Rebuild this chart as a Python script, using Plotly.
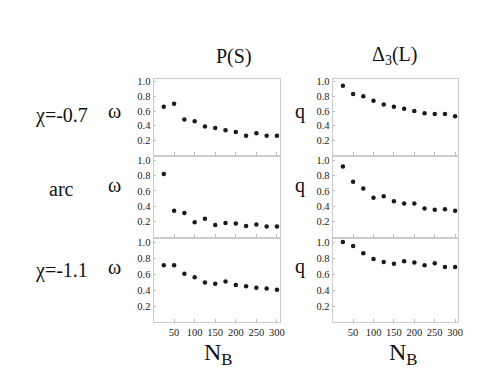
import plotly.graph_objects as go
from plotly.subplots import make_subplots

# N_B values shared by all panels
n_b = [25, 50, 75, 100, 125, 150, 175, 200, 225, 250, 275, 300]

# omega from P(S)
omega_chi07 = [0.66, 0.70, 0.485, 0.46, 0.39, 0.37, 0.34, 0.315, 0.265, 0.30, 0.265, 0.265]
omega_arc = [0.82, 0.34, 0.31, 0.19, 0.235, 0.155, 0.18, 0.175, 0.14, 0.16, 0.135, 0.135]
omega_chi11 = [0.71, 0.71, 0.605, 0.56, 0.495, 0.48, 0.51, 0.465, 0.45, 0.43, 0.42, 0.405]

# q from Delta_3(L)
q_chi07 = [0.944, 0.83, 0.80, 0.74, 0.69, 0.66, 0.63, 0.60, 0.57, 0.56, 0.56, 0.53]
q_arc = [0.92, 0.72, 0.63, 0.51, 0.53, 0.465, 0.435, 0.435, 0.37, 0.355, 0.36, 0.34]
q_chi11 = [1.0, 0.95, 0.86, 0.79, 0.75, 0.73, 0.76, 0.745, 0.71, 0.735, 0.69, 0.69]

row_labels = ["χ=-0.7", "arc", "χ=-1.1"]
col_titles = ["P(S)", "Δ<sub>3</sub>(L)"]
x_ticks = [50, 100, 150, 200, 250, 300]
y_ticks = [0.2, 0.4, 0.6, 0.8, 1.0]

W, H = 496, 382
SERIF = "Liberation Serif"

series = [
    [omega_chi07, q_chi07],
    [omega_arc, q_arc],
    [omega_chi11, q_chi11],
]

fig = make_subplots(rows=3, cols=2)

for r, pair in enumerate(series, start=1):
    for c, vals in enumerate(pair, start=1):
        fig.add_trace(go.Scatter(
            x=n_b, y=vals, mode="markers",
            marker=dict(size=4.5, color="#1a1a1a"),
            showlegend=False, cliponaxis=False,
        ), row=r, col=c)

# panel placement in pixels (left, right) and (top, bottom)
col_px = [(147, 275), (328, 455)]
row_px = [(69, 146), (148, 228), (230, 314)]

for r in range(3):
    for c in range(2):
        x0, x1 = col_px[c]
        y0, y1 = row_px[r]
        fig.update_xaxes(
            domain=[x0 / W, x1 / W], range=[0, 308],
            tickvals=x_ticks, showticklabels=(r == 2),
            ticks="inside", ticklen=3, tickcolor="#bbb",
            showline=True, mirror=True, linecolor="#ccc", linewidth=1,
            showgrid=False, zeroline=False,
            tickfont=dict(family=SERIF, size=10.5, color="#222"),
            row=r + 1, col=c + 1,
        )
        fig.update_yaxes(
            domain=[1 - y1 / H, 1 - y0 / H], range=[0, 1.04],
            tickvals=y_ticks, ticktext=[f"{v:.1f}" for v in y_ticks],
            ticks="inside", ticklen=2, tickcolor="#bbb",
            showline=True, mirror=True, linecolor="#ccc", linewidth=1,
            showgrid=False, zeroline=False,
            tickfont=dict(family=SERIF, size=10.5, color="#222"),
            row=r + 1, col=c + 1,
        )


def label(text, px, py, size):
    fig.add_annotation(
        text=text, x=px / W, y=1 - py / H, xref="paper", yref="paper",
        showarrow=False, xanchor="center", yanchor="middle",
        font=dict(family=SERIF, size=size, color="#111"),
    )


label(col_titles[0], 228, 47, 20)
label(col_titles[1], 390, 46, 20)

row_y = [106, 180, 262]
for lbl, py in zip(row_labels, row_y):
    label(lbl, 54, py, 20)
    label("ω", 108, py - 4, 20)
    label("q", 295, py - 4, 20)

label("N<sub>B</sub>", 213, 346, 24)
label("N<sub>B</sub>", 400, 346, 24)

fig.update_layout(
    width=W, height=H,
    margin=dict(l=0, r=0, t=0, b=0),
    paper_bgcolor="white", plot_bgcolor="white",
    font=dict(family=SERIF),
)

fig.write_html("out.html")
